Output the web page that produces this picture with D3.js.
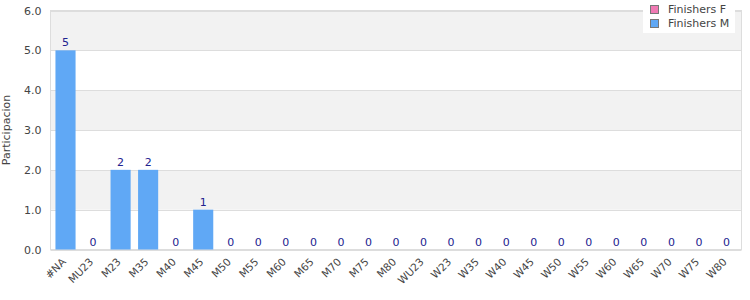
<!DOCTYPE html>
<html><head><meta charset="utf-8">
<script src="https://cdn.jsdelivr.net/npm/d3@7"></script>
<style>body{margin:0;background:#fff}svg{display:block;font-family:"DejaVu Sans",sans-serif}</style>
</head><body><svg id="c" width="750" height="300"></svg>
<script>
const categories=["#NA","MU23","M23","M35","M40","M45","M50","M55","M60","M65","M70","M75","M80","WU23","W23","W35","W40","W45","W50","W55","W60","W65","W70","W75","W80"];
const finishersM=[5,0,2,2,0,1,0,0,0,0,0,0,0,0,0,0,0,0,0,0,0,0,0,0,0];
const finishersF=[0,0,0,0,0,0,0,0,0,0,0,0,0,0,0,0,0,0,0,0,0,0,0,0,0];
const yTicks=[0,1,2,3,4,5,6];
const seriesNames=["Finishers F","Finishers M"];
const seriesColors=["#f07ab4","#60a8f5"];

const svg=d3.select("#c");
const L=50.5,R=741.5,T=10.5,B=249.5;
const x=d3.scaleBand().domain(categories).range([L,R]).paddingInner(0.27).paddingOuter(0.18);
const y=d3.scaleLinear().domain([0,6]).range([B,T]);

for(let i=0;i<yTicks.length-1;i++){
  svg.append("rect").attr("x",L).attr("y",y(yTicks[i+1])).attr("width",R-L).attr("height",y(yTicks[i])-y(yTicks[i+1]))
    .attr("fill",i%2===1?"#f2f2f2":"#ffffff");
}
svg.append("g").selectAll("line").data(yTicks).join("line")
  .attr("x1",L).attr("x2",R).attr("y1",d=>Math.round(y(d))+0.5).attr("y2",d=>Math.round(y(d))+0.5)
  .attr("stroke","#dddddd");
svg.append("rect").attr("x",L).attr("y",T).attr("width",R-L).attr("height",B-T).attr("fill","none").attr("stroke","#dddddd");

svg.append("g").selectAll("rect").data(categories).join("rect")
  .attr("x",d=>x(d)).attr("width",x.bandwidth())
  .attr("y",(d,i)=>y(finishersF[i]+finishersM[i])).attr("height",(d,i)=>y(finishersF[i])-y(finishersF[i]+finishersM[i]))
  .attr("fill",seriesColors[1]);

svg.append("g").selectAll("text").data(categories).join("text")
  .attr("x",d=>x(d)+x.bandwidth()/2).attr("y",(d,i)=>y(finishersM[i]+finishersF[i])-4)
  .attr("text-anchor","middle").attr("font-size",11).attr("fill","#22228f")
  .text((d,i)=>finishersM[i]);

const ya=svg.append("g").attr("transform",`translate(${L},0)`).call(d3.axisLeft(y).tickValues(yTicks).tickFormat(d3.format(".1f")).tickSize(0).tickPadding(9));
ya.select(".domain").remove();
ya.selectAll("text").attr("font-size",11).attr("fill","#444").attr("font-family","DejaVu Sans");

const xa=svg.append("g").attr("transform",`translate(0,${B})`).call(d3.axisBottom(x).tickSize(0).tickPadding(0));
xa.select(".domain").remove();
xa.selectAll("text").attr("font-size",10.5).attr("fill","#444").attr("font-family","DejaVu Sans")
  .attr("text-anchor","end").attr("y",0).attr("dy",0).attr("transform","translate(1,13) rotate(-45)");

svg.append("text").attr("transform",`translate(10,${(T+B)/2}) rotate(-90)`).attr("text-anchor","middle")
  .attr("font-size",11).attr("fill","#444").text("Participacion");

const lg=svg.append("g");
lg.append("rect").attr("x",643).attr("y",0).attr("width",92).attr("height",33).attr("fill","#fff");
seriesNames.forEach((n,i)=>{
  lg.append("rect").attr("x",650.5).attr("y",5.5+i*14).attr("width",8).attr("height",8).attr("fill",seriesColors[i]).attr("stroke","#777");
  lg.append("text").attr("x",668).attr("y",13+i*14).attr("font-size",11).attr("fill","#444").text(n);
});
</script></body></html>
